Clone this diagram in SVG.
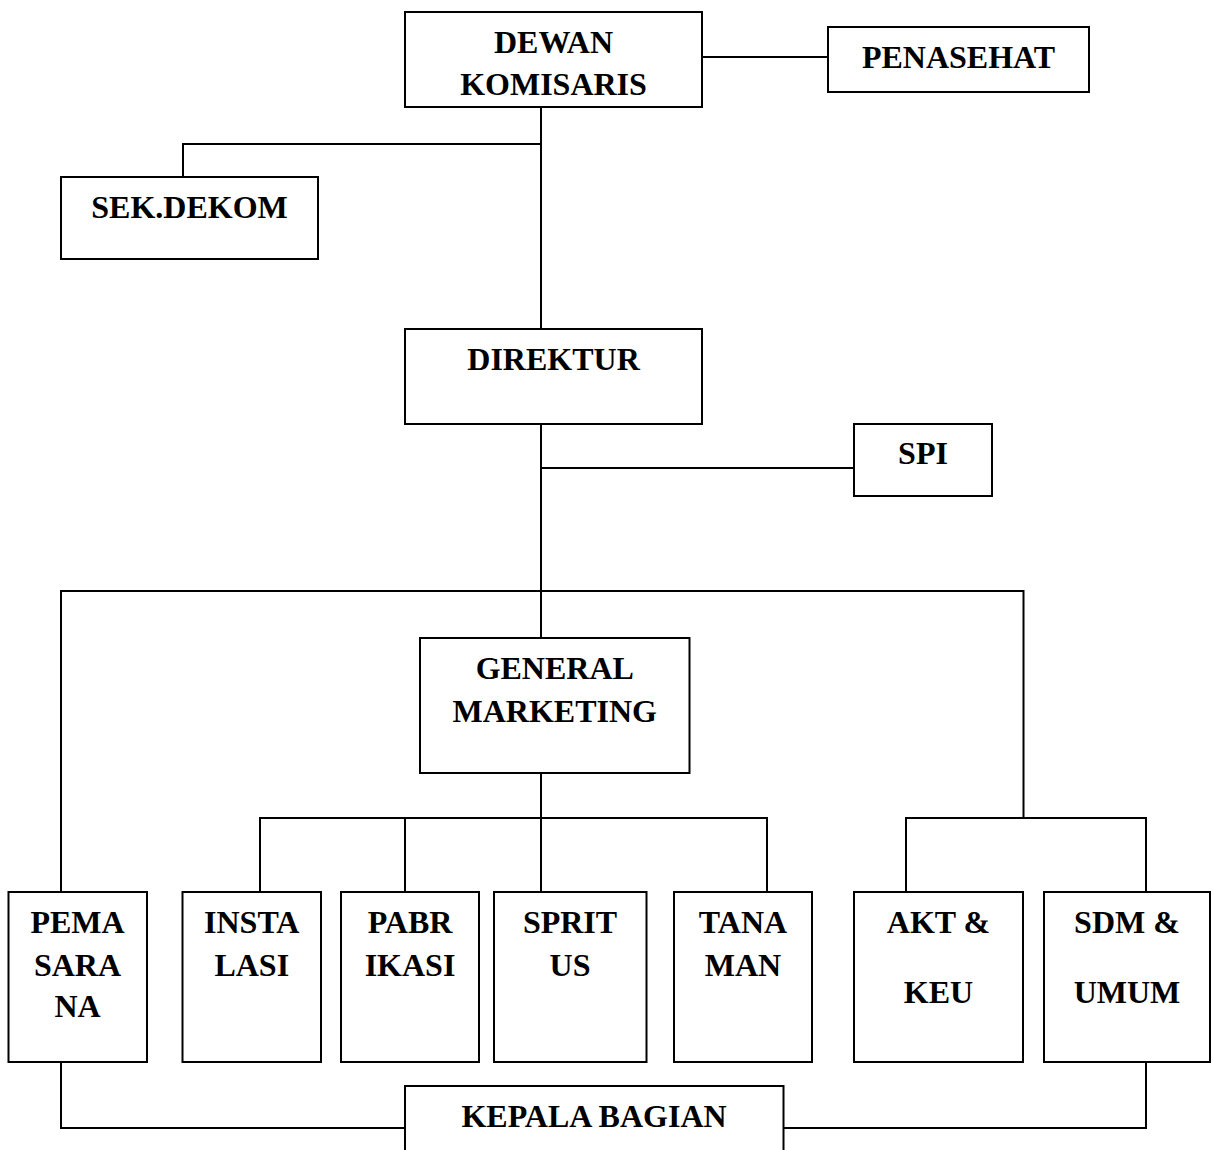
<svg xmlns="http://www.w3.org/2000/svg" width="1213" height="1150" viewBox="0 0 1213 1150">
<style>
.box{fill:#fff;stroke:#000;stroke-width:2}
.ln{fill:none;stroke:#000;stroke-width:2}
text{font-family:"Liberation Serif","Times New Roman",serif;font-weight:bold;font-size:32px;text-anchor:middle;fill:#000}
</style>
<rect width="1213" height="1150" fill="#fff"/>
<g id="connectors">
<path class="ln" d="M702 57 H828"/>
<path class="ln" d="M541 107 V329"/>
<path class="ln" d="M541 144 H183 V177"/>
<path class="ln" d="M541 424 V638"/>
<path class="ln" d="M541 468 H854"/>
<path class="ln" d="M61 892 V591 H1023.5 V818"/>
<path class="ln" d="M906 892 V818 H1146 V892"/>
<path class="ln" d="M541 773 V892"/>
<path class="ln" d="M260 892 V818 H767 V892"/>
<path class="ln" d="M405 818 V892"/>
<path class="ln" d="M61 1062 V1128 H405"/>
<path class="ln" d="M1146 1062 V1128 H783.5"/>
</g>
<g id="dewan"><rect class="box" x="405" y="12" width="297" height="95"/><text x="553.5" y="53">DEWAN</text><text x="553.5" y="95">KOMISARIS</text></g>
<g id="penasehat"><rect class="box" x="828" y="27" width="261" height="65"/><text x="958.5" y="68">PENASEHAT</text></g>
<g id="sekdekom"><rect class="box" x="61" y="177" width="257" height="82"/><text x="189.5" y="218">SEK.DEKOM</text></g>
<g id="direktur"><rect class="box" x="405" y="329" width="297" height="95"/><text x="553.5" y="370">DIREKTUR</text></g>
<g id="spi"><rect class="box" x="854" y="424" width="138" height="72"/><text x="923" y="464">SPI</text></g>
<g id="general"><rect class="box" x="420" y="638" width="269.5" height="135"/><text x="554.75" y="679">GENERAL</text><text x="554.75" y="722">MARKETING</text></g>
<g id="pema"><rect class="box" x="8.5" y="892" width="138.5" height="170"/><text x="77.5" y="933">PEMA</text><text x="77.5" y="976">SARA</text><text x="77.5" y="1017">NA</text></g>
<g id="instalasi"><rect class="box" x="182.5" y="892" width="138.5" height="170"/><text x="251.75" y="933">INSTA</text><text x="251.75" y="976">LASI</text></g>
<g id="pabrikasi"><rect class="box" x="341" y="892" width="138" height="170"/><text x="410" y="933">PABR</text><text x="410" y="976">IKASI</text></g>
<g id="spritus"><rect class="box" x="494" y="892" width="152.5" height="170"/><text x="570" y="933">SPRIT</text><text x="570" y="976">US</text></g>
<g id="tanaman"><rect class="box" x="674" y="892" width="138" height="170"/><text x="743" y="933">TANA</text><text x="743" y="976">MAN</text></g>
<g id="aktkeu"><rect class="box" x="854" y="892" width="169" height="170"/><text x="938.5" y="933">AKT &amp;</text><text x="938.5" y="1003">KEU</text></g>
<g id="sdmumum"><rect class="box" x="1044" y="892" width="166" height="170"/><text x="1127" y="933">SDM &amp;</text><text x="1127" y="1003">UMUM</text></g>
<g id="kepala"><rect class="box" x="405" y="1086" width="378.5" height="80"/><text x="594" y="1127">KEPALA BAGIAN</text></g>
</svg>
